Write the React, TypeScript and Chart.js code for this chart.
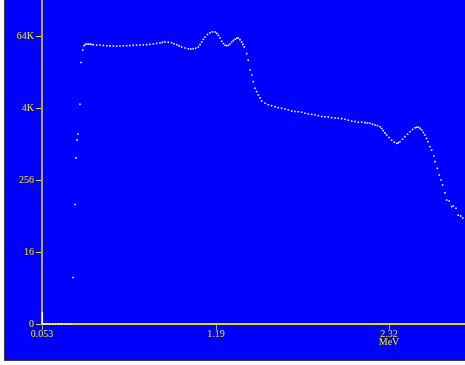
import React, { useEffect, useRef } from "react";
import { Chart, registerables } from "chart.js";

Chart.register(...registerables);

// Spectrum: energy (MeV) and counts (log scale)
const energy: number[] = [
  0.063, 0.083, 0.102, 0.122, 0.141, 0.161, 0.181, 0.2, 0.22, 0.24,
  0.256, 0.269, 0.275, 0.282, 0.288, 0.301, 0.308, 0.319, 0.327, 0.335,
  0.345, 0.356, 0.367, 0.377, 0.388, 0.41, 0.432, 0.454, 0.476, 0.497,
  0.519, 0.54, 0.562, 0.584, 0.606, 0.627, 0.649, 0.671, 0.693, 0.715,
  0.737, 0.758, 0.78, 0.802, 0.824, 0.84, 0.856, 0.878, 0.9, 0.916,
  0.933, 0.949, 0.965, 0.987, 1.009, 1.025, 1.041, 1.057, 1.074, 1.085,
  1.096, 1.107, 1.118, 1.134, 1.15, 1.166, 1.183, 1.194, 1.205, 1.216,
  1.227, 1.238, 1.248, 1.259, 1.27, 1.281, 1.292, 1.303, 1.314, 1.325,
  1.335, 1.346, 1.357, 1.365, 1.374, 1.39, 1.4, 1.412, 1.423, 1.433,
  1.444, 1.455, 1.466, 1.477, 1.488, 1.51, 1.531, 1.553, 1.575, 1.596,
  1.618, 1.64, 1.662, 1.684, 1.705, 1.727, 1.749, 1.771, 1.793, 1.815,
  1.836, 1.858, 1.88, 1.901, 1.923, 1.945, 1.967, 1.988, 2.01, 2.032,
  2.054, 2.076, 2.097, 2.119, 2.141, 2.163, 2.179, 2.195, 2.212, 2.228,
  2.244, 2.261, 2.272, 2.282, 2.293, 2.304, 2.32, 2.337, 2.354, 2.37,
  2.38, 2.391, 2.408, 2.424, 2.441, 2.457, 2.473, 2.489, 2.5, 2.511,
  2.522, 2.533, 2.544, 2.555, 2.565, 2.574, 2.587, 2.598, 2.613, 2.62,
  2.635, 2.648, 2.659, 2.67, 2.685, 2.696, 2.713, 2.729, 2.739, 2.757,
  2.772, 2.788, 2.801,
];

const counts: number[] = [
  1, 1, 1, 1, 1, 1, 1, 1, 1, 1,
  6, 100, 600, 1190, 1500, 4720, 23600, 38200, 45100, 47200,
  48200, 47800, 48200, 47300, 46900, 46000, 46300, 45500, 45100, 44800,
  44600, 44300, 44600, 44900, 45100, 45400, 45800, 46000, 46300, 46600,
  46900, 47500, 48200, 49300, 50000, 51200, 52000, 51500, 50600, 48500,
  46900, 44800, 42900, 41200, 40200, 39800, 40200, 41000, 42900, 47000,
  52000, 57500, 63000, 69500, 74400, 76800, 76400, 72500, 67300, 60500,
  53500, 49000, 45800, 45200, 45800, 48200, 52000, 55000, 57700, 60000,
  60700, 57000, 52000, 47500, 42900, 33200, 25700, 17700, 14600, 11300,
  8740, 7700, 6760, 6000, 5360, 4910, 4650, 4480, 4300, 4150,
  4050, 3940, 3800, 3650, 3580, 3550, 3480, 3340, 3260, 3210,
  3150, 3050, 2960, 2930, 2900, 2820, 2790, 2760, 2720, 2650,
  2560, 2480, 2430, 2360, 2370, 2330, 2300, 2270, 2200, 2130,
  2080, 1990, 1860, 1710, 1570, 1450, 1320, 1190, 1100, 1050,
  1070, 1120, 1230, 1360, 1500, 1640, 1790, 1920, 1950, 1950,
  1870, 1760, 1600, 1450, 1270, 1120, 920, 810, 645, 520,
  400, 310, 256, 211, 157, 118, 114, 92, 94, 86,
  66, 64, 59,
];

// Spike at the very first channel
const spikeEnergy: number[] = [0.055, 0.055];
const spikeCounts: number[] = [1, 1.6];

const xMin = 0.053;
const xMax = 2.816;
const yMin = 1;
const yMax = 262144;

const xTickValues: number[] = [0.053, 1.19, 2.32];
const xTickLabels: (string | string[])[] = ["0.053", "1.19", ["2.32", "MeV"]];
const yTickValues: number[] = [1, 16, 256, 4096, 65536];
const yTickLabels: string[] = ["0", "16", "256", "4K", "64K"];

const TEXT_YELLOW = "#f2f200";
const FONT = { family: "'Liberation Serif', 'DejaVu Serif', serif", size: 10, lineHeight: 0.85 };

export default function App() {
  const ref = useRef<HTMLCanvasElement | null>(null);

  useEffect(() => {
    if (!ref.current) return;
    const points = energy.map((e, i) => ({ x: e, y: counts[i] }));
    const spike = spikeEnergy.map((e, i) => ({ x: e, y: spikeCounts[i] }));
    const chart = new Chart(ref.current, {
      type: "scatter",
      data: {
        datasets: [
          {
            data: spike,
            showLine: true,
            borderColor: "#ffffff",
            borderWidth: 1.5,
            pointRadius: 0,
            clip: false,
          } as any,
          {
            data: points,
            pointStyle: "rect",
            pointRadius: 1.1,
            pointBorderWidth: 0,
            backgroundColor: "#ffffff",
            borderColor: "#ffffff",
            clip: false,
          } as any,
        ],
      },
      options: {
        animation: false,
        responsive: false,
        devicePixelRatio: 1,
        layout: { padding: 0, autoPadding: false } as any,
        plugins: { legend: { display: false }, tooltip: { enabled: false } },
        scales: {
          x: {
            type: "linear",
            min: xMin,
            max: xMax,
            afterBuildTicks: (scale: any) => {
              scale.ticks = xTickValues.map((v) => ({ value: v }));
            },
            afterFit: (scale: any) => {
              scale.height = 36;
              scale.paddingLeft = 0;
              scale.paddingRight = 0;
            },
            ticks: {
              autoSkip: false,
              maxRotation: 0,
              padding: 0,
              color: TEXT_YELLOW,
              font: FONT,
              callback: (_v: any, i: number) => xTickLabels[i],
            },
            grid: {
              drawOnChartArea: false,
              drawTicks: true,
              tickLength: 6,
              color: "#a4a4a4",
              lineWidth: 1,
            },
            border: { display: true, color: "#dede00", width: 2 },
          },
          y: {
            type: "logarithmic",
            min: yMin,
            max: yMax,
            afterBuildTicks: (scale: any) => {
              scale.ticks = yTickValues.map((v) => ({ value: v }));
            },
            afterFit: (scale: any) => {
              scale.width = 37;
              scale.paddingTop = 0;
              scale.paddingBottom = 0;
            },
            ticks: {
              autoSkip: false,
              padding: 2,
              color: TEXT_YELLOW,
              font: FONT,
              callback: (_v: any, i: number) => yTickLabels[i],
            },
            grid: {
              drawOnChartArea: false,
              drawTicks: true,
              tickLength: 6,
              color: "#e0e000",
              lineWidth: 1,
            },
            border: { display: true, color: "#a8a67a", width: 2 },
          },
        },
      },
    });
    return () => chart.destroy();
  }, []);

  return (
    <div
      style={{
        position: "fixed",
        left: 4,
        top: 0,
        width: 460,
        height: 360,
        background: "#0000fe",
        borderLeft: "1px solid #3c3c3c",
        borderBottom: "1px solid #3c3c3c",
      }}
    >
      <canvas ref={ref} width={460} height={360} style={{ display: "block" }} />
    </div>
  );
}
